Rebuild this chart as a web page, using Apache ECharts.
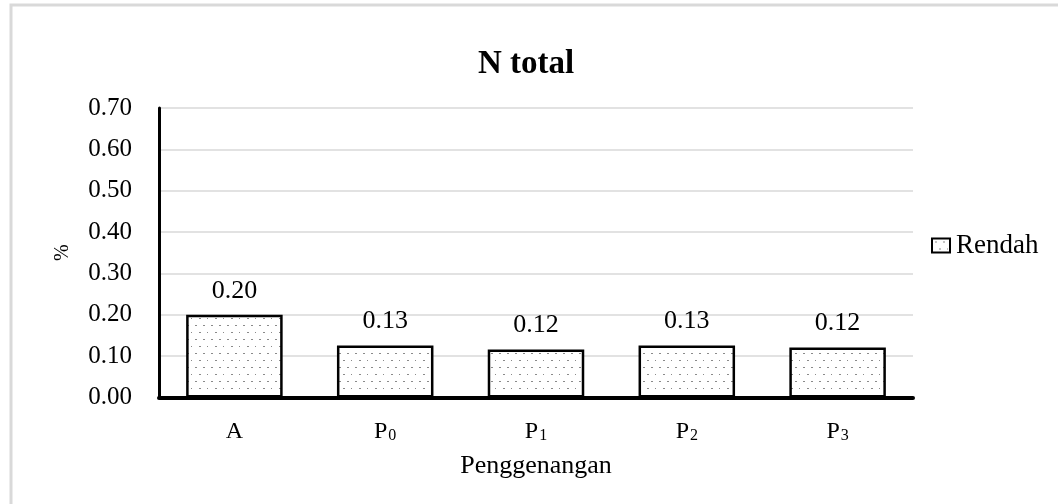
<!DOCTYPE html>
<html>
<head>
<meta charset="utf-8">
<script src="https://cdn.jsdelivr.net/npm/echarts@6/dist/echarts.min.js"></script>
<style>
html,body{margin:0;padding:0;background:#fff;}
#chart{width:1058px;height:504px;}
</style>
</head>
<body>
<div id="chart"></div>
<script>
const categories = ['A', 'P0', 'P1', 'P2', 'P3'];
const rendah = [0.20, 0.126, 0.116, 0.126, 0.121];
const yTicks = [0, 0.1, 0.2, 0.3, 0.4, 0.5, 0.6, 0.7];

const pc = document.createElement('canvas');
pc.width = 16; pc.height = 14;
const pctx = pc.getContext('2d');
pctx.fillStyle = '#fff';
pctx.fillRect(0, 0, 16, 14);
pctx.fillStyle = '#8a8a8a';
[[3,3],[11,3],[7,10],[15,10]].forEach(p => pctx.fillRect(p[0], p[1], 2, 1));

const serif = '"Liberation Serif", "DejaVu Serif", serif';
const chart = echarts.init(document.getElementById('chart'));
chart.setOption({
  backgroundColor: '#fff',
  animation: false,
  graphic: [{
    type: 'rect', shape: {x: 11, y: 5, width: 1100, height: 600},
    style: {fill: 'none', stroke: '#d9d9d9', lineWidth: 3}, silent: true
  }],
  title: {
    text: 'N total', left: 521, textAlign: 'center', top: 43,
    textStyle: {fontFamily: serif, fontSize: 33, fontWeight: 'bold', color: '#000'}
  },
  legend: {
    data: ['Rendah'], left: 926, top: 227, orient: 'vertical', icon: 'rect',
    itemWidth: 18, itemHeight: 14, itemGap: 6,
    itemStyle: {borderWidth: 2, borderColor: '#000'},
    textStyle: {fontFamily: serif, fontSize: 27, color: '#000', padding: [0,0,0,1]}
  },
  grid: {left: 159, right: 145, top: 108, bottom: 106.5},
  xAxis: {
    type: 'category', data: categories,
    name: 'Penggenangan', nameLocation: 'middle', nameGap: 56,
    nameTextStyle: {fontFamily: serif, fontSize: 26, color: '#000'},
    axisLine: {lineStyle: {color: '#000', width: 4}},
    axisTick: {show: false},
    axisLabel: {
      margin: 22,
      formatter: v => v.length > 1 ? '{m|' + v[0] + '}{s|' + v.slice(1) + '}' : '{m|' + v + '}',
      rich: {
        m: {fontFamily: serif, fontSize: 24, color: '#000'},
        s: {fontFamily: serif, fontSize: 16, color: '#000', verticalAlign: 'bottom', padding: [0,0,0,1]}
      }
    }
  },
  yAxis: {
    type: 'value', min: 0, max: 0.7, interval: 0.1,
    name: '%', nameLocation: 'middle', nameGap: 86, nameRotate: 90,
    nameTextStyle: {fontFamily: serif, fontSize: 20, color: '#000'},
    axisLine: {show: true, lineStyle: {color: '#000', width: 3}},
    axisTick: {show: false},
    splitLine: {lineStyle: {color: '#d9d9d9', width: 1.5}},
    axisLabel: {fontFamily: serif, fontSize: 25, color: '#000', margin: 27,
      formatter: v => v.toFixed(2)}
  },
  series: [{
    name: 'Rendah', type: 'bar', data: rendah, barWidth: '64%',
    itemStyle: {color: {image: pc, repeat: 'repeat'}, borderColor: '#000', borderWidth: 2.5},
    label: {show: true, position: 'top', distance: 11, fontFamily: serif, fontSize: 26, color: '#000',
      formatter: p => p.value.toFixed(2)}
  }]
});
</script>
</body>
</html>
